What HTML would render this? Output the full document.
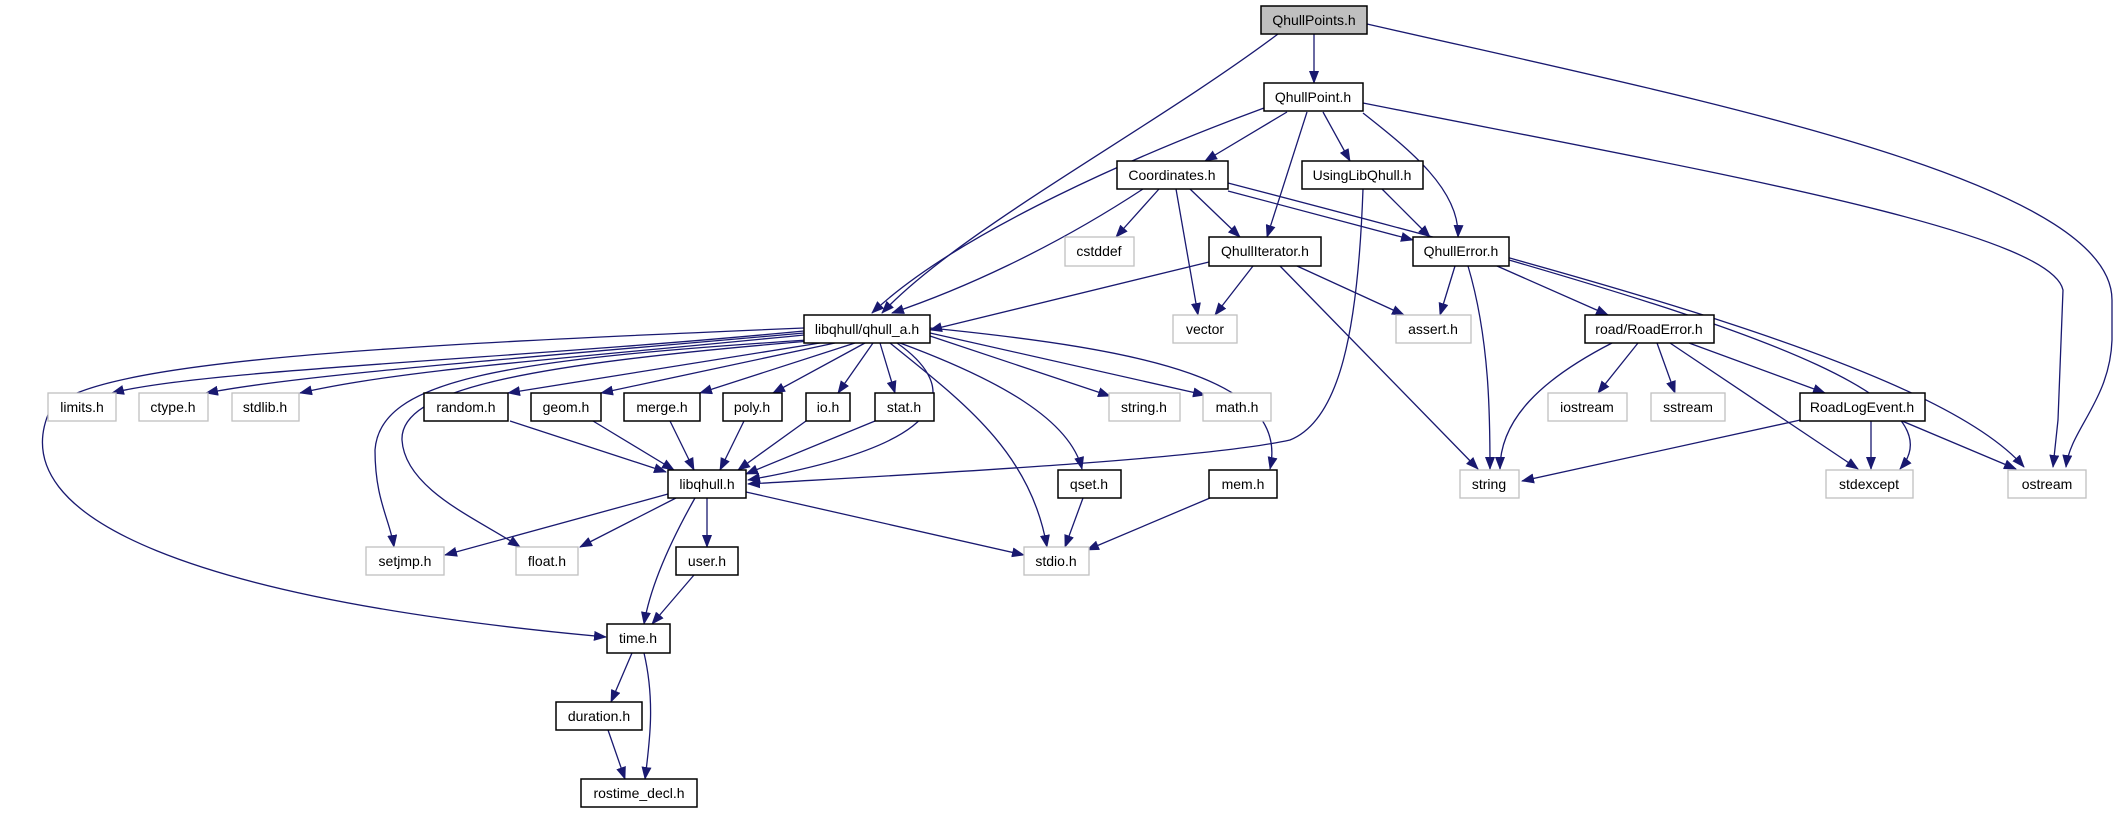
<!DOCTYPE html>
<html><head><meta charset="utf-8"><style>
html,body{margin:0;padding:0;background:#fff;}
svg{display:block;}
text{font-family:"Liberation Sans","DejaVu Sans",sans-serif;font-size:14px;fill:#000;text-anchor:middle;dominant-baseline:central;}
.b{fill:#fff;stroke:#000;stroke-width:1.5;}
.g{fill:#fff;stroke:#c0c0c0;stroke-width:1.3;}
.e{fill:none;stroke:#191970;stroke-width:1.3;marker-end:url(#a);}
</style></head><body>
<svg width="2115" height="813" viewBox="0 0 2115 813" xmlns="http://www.w3.org/2000/svg">
<defs><marker id="a" markerWidth="13" markerHeight="10" refX="12" refY="5" orient="auto" markerUnits="userSpaceOnUse"><path d="M0,0 L13,5 L0,10 z" fill="#191970"/></marker></defs>
<g>
<path class="e" d="M1314,34 L1314,83"/>
<path class="e" d="M1278,34 C1150,130 960,230 882,313"/>
<path class="e" d="M1367,24 C1700,100 2112,180 2112,300 L2112,340 C2110,400 2070,430 2066,467"/>
<path class="e" d="M1264,108 C1150,150 960,230 872,313"/>
<path class="e" d="M1287,112 L1205,161"/>
<path class="e" d="M1307,112 L1267,237"/>
<path class="e" d="M1323,112 L1350,161"/>
<path class="e" d="M1363,113 C1410,150 1460,190 1458,237"/>
<path class="e" d="M1363,103 C1700,170 2050,230 2063,290 L2058,420 L2053,467"/>
<path class="e" d="M1143,189 C1050,250 960,290 892,313"/>
<path class="e" d="M1159,189 L1116,237"/>
<path class="e" d="M1176,189 L1198,315"/>
<path class="e" d="M1190,189 L1240,237"/>
<path class="e" d="M1228,191 L1413,240"/>
<path class="e" d="M1228,183 C1600,280 1940,370 2024,467"/>
<path class="e" d="M1382,189 L1430,237"/>
<path class="e" d="M1363,189 C1358,330 1340,420 1290,440 C1200,460 900,475 748,484"/>
<path class="e" d="M1209,262 L930,330"/>
<path class="e" d="M1253,266 L1215,315"/>
<path class="e" d="M1297,266 L1404,315"/>
<path class="e" d="M1280,266 L1478,469"/>
<path class="e" d="M1455,266 L1440,315"/>
<path class="e" d="M1468,266 C1490,340 1490,420 1490,469"/>
<path class="e" d="M1497,266 L1608,315"/>
<path class="e" d="M1509,260 C1750,330 1960,400 1900,469"/>
<path class="e" d="M1612,343 C1540,380 1500,420 1500,469"/>
<path class="e" d="M1638,343 L1598,393"/>
<path class="e" d="M1657,343 L1675,393"/>
<path class="e" d="M1670,343 L1858,469"/>
<path class="e" d="M1689,343 L1825,393"/>
<path class="e" d="M1805,419 L1522,481"/>
<path class="e" d="M1871,421 L1871,469"/>
<path class="e" d="M1902,421 L2016,469"/>
<path class="e" d="M804,331 C500,360 200,370 112,393"/>
<path class="e" d="M804,333 C500,360 300,375 206,393"/>
<path class="e" d="M804,335 C550,360 400,370 300,393"/>
<path class="e" d="M820,343 L508,393"/>
<path class="e" d="M835,343 L601,393"/>
<path class="e" d="M855,343 L700,393"/>
<path class="e" d="M865,343 L773,393"/>
<path class="e" d="M873,343 L838,393"/>
<path class="e" d="M880,343 L895,393"/>
<path class="e" d="M897,343 C950,380 975,440 748,480"/>
<path class="e" d="M930,336 L1110,396"/>
<path class="e" d="M930,333 L1205,395"/>
<path class="e" d="M930,328 C1150,350 1290,380 1270,469"/>
<path class="e" d="M900,343 C1000,380 1070,420 1082,469"/>
<path class="e" d="M890,343 C960,400 1030,450 1047,547"/>
<path class="e" d="M808,340 C500,360 380,380 375,450 C375,500 390,520 394,547"/>
<path class="e" d="M810,341 C520,365 400,390 402,440 C405,490 480,520 520,547"/>
<path class="e" d="M804,328 C400,345 90,360 50,410 C0,520 200,600 606,637"/>
<path class="e" d="M510,421 L666,472"/>
<path class="e" d="M593,421 L674,470"/>
<path class="e" d="M670,421 L694,470"/>
<path class="e" d="M744,421 L720,470"/>
<path class="e" d="M806,421 L738,470"/>
<path class="e" d="M875,421 L746,474"/>
<path class="e" d="M668,494 L445,555"/>
<path class="e" d="M676,498 L580,547"/>
<path class="e" d="M707,498 L707,547"/>
<path class="e" d="M695,498 C660,560 648,600 644,624"/>
<path class="e" d="M746,492 L1024,555"/>
<path class="e" d="M1083,498 L1065,547"/>
<path class="e" d="M1210,498 L1087,550"/>
<path class="e" d="M694,575 L652,624"/>
<path class="e" d="M632,653 L611,702"/>
<path class="e" d="M644,653 C655,700 650,740 645,779"/>
<path class="e" d="M608,730 L625,779"/>
</g>
<g>
<rect x="1261" y="6" width="106" height="28" fill="#bfbfbf" stroke="#000" stroke-width="1.5"/><text x="1314" y="20">QhullPoints.h</text>
<rect class="b" x="1264" y="83" width="99" height="28"/><text x="1313" y="97">QhullPoint.h</text>
<rect class="b" x="1117" y="161" width="111" height="28"/><text x="1172" y="175">Coordinates.h</text>
<rect class="b" x="1302" y="161" width="121" height="28"/><text x="1362" y="175">UsingLibQhull.h</text>
<rect class="g" x="1065" y="237" width="69" height="29"/><text x="1099" y="251">cstddef</text>
<rect class="b" x="1209" y="237" width="112" height="29"/><text x="1265" y="251">QhullIterator.h</text>
<rect class="b" x="1413" y="237" width="96" height="29"/><text x="1461" y="251">QhullError.h</text>
<rect class="b" x="804" y="315" width="126" height="28"/><text x="867" y="329">libqhull/qhull_a.h</text>
<rect class="g" x="1173" y="315" width="64" height="28"/><text x="1205" y="329">vector</text>
<rect class="g" x="1396" y="315" width="75" height="28"/><text x="1433" y="329">assert.h</text>
<rect class="b" x="1585" y="315" width="129" height="28"/><text x="1649" y="329">road/RoadError.h</text>
<rect class="g" x="48" y="393" width="68" height="28"/><text x="82" y="407">limits.h</text>
<rect class="g" x="139" y="393" width="69" height="28"/><text x="173" y="407">ctype.h</text>
<rect class="g" x="232" y="393" width="67" height="28"/><text x="265" y="407">stdlib.h</text>
<rect class="b" x="424" y="393" width="84" height="28"/><text x="466" y="407">random.h</text>
<rect class="b" x="531" y="393" width="70" height="28"/><text x="566" y="407">geom.h</text>
<rect class="b" x="624" y="393" width="76" height="28"/><text x="662" y="407">merge.h</text>
<rect class="b" x="723" y="393" width="59" height="28"/><text x="752" y="407">poly.h</text>
<rect class="b" x="806" y="393" width="44" height="28"/><text x="828" y="407">io.h</text>
<rect class="b" x="875" y="393" width="59" height="28"/><text x="904" y="407">stat.h</text>
<rect class="g" x="1109" y="393" width="71" height="28"/><text x="1144" y="407">string.h</text>
<rect class="g" x="1203" y="393" width="68" height="28"/><text x="1237" y="407">math.h</text>
<rect class="g" x="1548" y="393" width="79" height="28"/><text x="1587" y="407">iostream</text>
<rect class="g" x="1651" y="393" width="74" height="28"/><text x="1688" y="407">sstream</text>
<rect class="b" x="1800" y="393" width="125" height="28"/><text x="1862" y="407">RoadLogEvent.h</text>
<rect class="b" x="668" y="470" width="78" height="28"/><text x="707" y="484">libqhull.h</text>
<rect class="b" x="1058" y="470" width="63" height="28"/><text x="1089" y="484">qset.h</text>
<rect class="b" x="1209" y="470" width="68" height="28"/><text x="1243" y="484">mem.h</text>
<rect class="g" x="1460" y="470" width="59" height="28"/><text x="1489" y="484">string</text>
<rect class="g" x="1826" y="470" width="87" height="28"/><text x="1869" y="484">stdexcept</text>
<rect class="g" x="2008" y="470" width="78" height="28"/><text x="2047" y="484">ostream</text>
<rect class="g" x="366" y="547" width="78" height="28"/><text x="405" y="561">setjmp.h</text>
<rect class="g" x="516" y="547" width="62" height="28"/><text x="547" y="561">float.h</text>
<rect class="b" x="676" y="547" width="62" height="28"/><text x="707" y="561">user.h</text>
<rect class="g" x="1024" y="547" width="65" height="28"/><text x="1056" y="561">stdio.h</text>
<rect class="b" x="607" y="624" width="63" height="29"/><text x="638" y="638">time.h</text>
<rect class="b" x="556" y="702" width="86" height="28"/><text x="599" y="716">duration.h</text>
<rect class="b" x="581" y="779" width="116" height="28"/><text x="639" y="793">rostime_decl.h</text>
</g>
</svg>
</body></html>
